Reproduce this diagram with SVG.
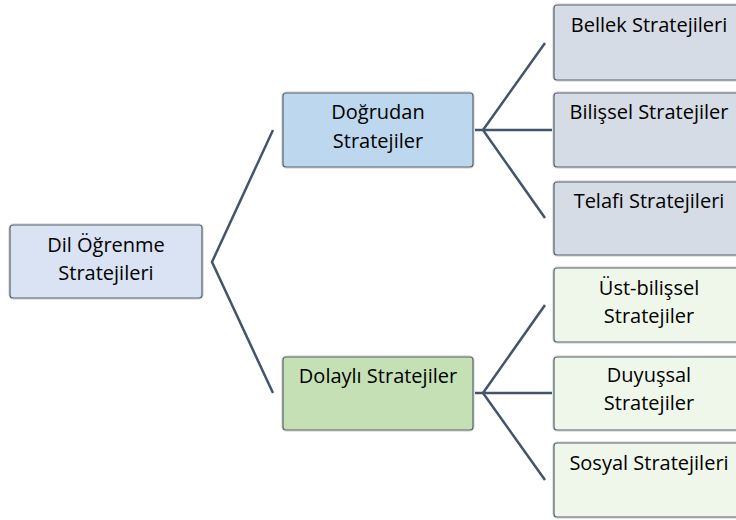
<svg xmlns="http://www.w3.org/2000/svg" width="736" height="520" viewBox="0 0 736 520">
  <style>
    .halo { fill: none; stroke: #e4e4e4; stroke-width: 4; }
    .box { stroke: #56616c; stroke-width: 1.2; }
    .root { fill: #dae3f3; }
    .direct { fill: #bdd7ee; }
    .indirect { fill: #c5e0b4; }
    .leaf-d { fill: #d6dce5; }
    .leaf-i { fill: #eff7ea; }
    .lbl { font-family: "Open Sans", "DejaVu Sans", sans-serif; font-size: 20px; fill: #000; text-anchor: middle; }
    .conn { fill: none; stroke: #44546a; stroke-width: 2.5; stroke-linejoin: miter; }
  </style>
  <rect width="736" height="520" fill="#ffffff"/>

  <!-- connectors -->
  <g id="connectors">
    <polyline class="conn" points="273,130 212,262 273,393"/>
    <polyline class="conn" points="473,130 483,130"/>
    <polyline class="conn" points="545,43 483,130 545,218"/>
    <polyline class="conn" points="483,130 552,130"/>
    <polyline class="conn" points="473,393 483,393"/>
    <polyline class="conn" points="545,305 483,393 545,480"/>
    <polyline class="conn" points="483,393 552,393"/>
  </g>

  <!-- level 0 -->
  <g id="node-root">
    <rect class="halo" x="10" y="225" width="192" height="73" rx="4"/>
    <rect class="box root" x="10" y="225" width="192" height="73" rx="3"/>
    <text class="lbl" x="106" y="252">Dil Öğrenme</text>
    <text class="lbl" x="106" y="280">Stratejileri</text>
  </g>

  <!-- level 1 -->
  <g id="node-direct">
    <rect class="halo" x="283" y="93" width="190" height="74" rx="4"/>
    <rect class="box direct" x="283" y="93" width="190" height="74" rx="3"/>
    <text class="lbl" x="378" y="119">Doğrudan</text>
    <text class="lbl" x="378" y="148">Stratejiler</text>
  </g>
  <g id="node-indirect">
    <rect class="halo" x="283" y="357" width="190" height="73" rx="4"/>
    <rect class="box indirect" x="283" y="357" width="190" height="73" rx="3"/>
    <text class="lbl" x="378" y="383">Dolaylı Stratejiler</text>
  </g>

  <!-- level 2: direct strategies -->
  <g id="node-memory">
    <rect class="halo" x="554" y="5" width="190" height="75" rx="4"/>
    <rect class="box leaf-d" x="554" y="5" width="190" height="75" rx="3"/>
    <text class="lbl" x="649" y="32">Bellek Stratejileri</text>
  </g>
  <g id="node-cognitive">
    <rect class="halo" x="554" y="93" width="190" height="74" rx="4"/>
    <rect class="box leaf-d" x="554" y="93" width="190" height="74" rx="3"/>
    <text class="lbl" x="649" y="119">Bilişsel Stratejiler</text>
  </g>
  <g id="node-compensation">
    <rect class="halo" x="554" y="182" width="190" height="73" rx="4"/>
    <rect class="box leaf-d" x="554" y="182" width="190" height="73" rx="3"/>
    <text class="lbl" x="649" y="208">Telafi Stratejileri</text>
  </g>

  <!-- level 2: indirect strategies -->
  <g id="node-metacognitive">
    <rect class="halo" x="554" y="268" width="190" height="74" rx="4"/>
    <rect class="box leaf-i" x="554" y="268" width="190" height="74" rx="3"/>
    <text class="lbl" x="649" y="295">Üst-bilişsel</text>
    <text class="lbl" x="649" y="323">Stratejiler</text>
  </g>
  <g id="node-affective">
    <rect class="halo" x="554" y="357" width="190" height="73" rx="4"/>
    <rect class="box leaf-i" x="554" y="357" width="190" height="73" rx="3"/>
    <text class="lbl" x="649" y="382">Duyuşsal</text>
    <text class="lbl" x="649" y="410">Stratejiler</text>
  </g>
  <g id="node-social">
    <rect class="halo" x="554" y="443" width="190" height="74" rx="4"/>
    <rect class="box leaf-i" x="554" y="443" width="190" height="74" rx="3"/>
    <text class="lbl" x="649" y="470">Sosyal Stratejileri</text>
  </g>
</svg>
